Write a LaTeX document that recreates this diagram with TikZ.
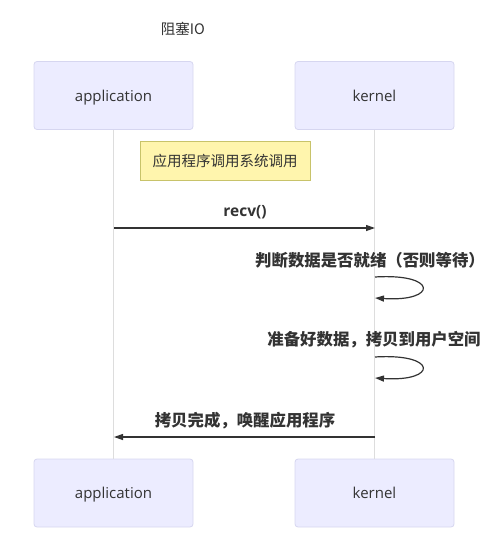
\documentclass[tikz,border=0pt]{standalone}
\usepackage{fontspec}
\setmainfont{Open Sans}
\newfontfamily\cjk{Noto Sans CJK SC}
\usetikzlibrary{arrows.meta}
\definecolor{actfill}{HTML}{ECECFF}
\definecolor{actdraw}{HTML}{D6D6F0}
\definecolor{notefill}{HTML}{FFF5AD}
\definecolor{notedraw}{HTML}{C8C36A}
\definecolor{ink}{HTML}{333333}
\definecolor{life}{HTML}{DDDDDD}
\tikzset{
  actor/.style={draw=actdraw, fill=actfill, rounded corners=3pt, line width=0.8pt,
    minimum width=159pt, minimum height=68pt, inner sep=0pt, text depth=0pt,
    font=\fontsize{15}{16}\selectfont, text=ink},
  notebox/.style={draw=notedraw, fill=notefill, line width=0.8pt, minimum width=170pt,
    minimum height=39pt, inner sep=0pt, font=\cjk\fontsize{14.5}{16}\selectfont, text=ink},
  msglabel/.style={font=\cjk\bfseries\fontsize{16.4}{18}\selectfont, text=ink, inner sep=0pt},
  msg/.style={draw=ink, line width=1.2pt, -{Triangle[length=9pt,width=6pt]}},
  lifeline/.style={draw=life, line width=1.3pt}
}
\begin{document}
\begin{tikzpicture}[x=1pt,y=-1pt]
\useasboundingbox (0,0) rectangle (501,543);
\node[font=\cjk\fontsize{14.5}{16}\selectfont, text=ink] (title) at (183,29) {阻塞IO};
\node[actor] (appT) at (113.5,95.5) {application};
\node[actor] (kerT) at (374.5,95.5) {kernel};
\node[actor] (appB) at (113.5,493) {application};
\node[actor] (kerB) at (374.5,493) {kernel};
\draw[lifeline] (appT.south) -- (appB.north);
\draw[lifeline] (kerT.south) -- (kerB.north);
\node[notebox] (note) at (225,160.5) {应用程序调用系统调用};
% recv
\coordinate (r1) at (114,228);
\coordinate (r2) at (375,228);
\node[msglabel, font=\bfseries\fontsize{15.5}{18}\selectfont] (l1) at (245,212) {recv()};
\draw[msg] (r1) -- (r2);
% loop 1
\node[msglabel] (l2) at (370,260) {判断数据是否就绪（否则等待）};
\coordinate (a1) at (375,277);
\coordinate (a2) at (375,298);
\draw[msg] (a1) .. controls (438,273) and (438,302) .. (a2);
% loop 2
\node[msglabel] (l3) at (374,340) {准备好数据，拷贝到用户空间};
\coordinate (b1) at (375,357);
\coordinate (b2) at (375,378);
\draw[msg] (b1) .. controls (438,353) and (438,382) .. (b2);
% return
\node[msglabel] (l4) at (245,421) {拷贝完成，唤醒应用程序};
\coordinate (c1) at (375,437);
\coordinate (c2) at (114,437);
\draw[msg] (c1) -- (c2);
\end{tikzpicture}
\end{document}
